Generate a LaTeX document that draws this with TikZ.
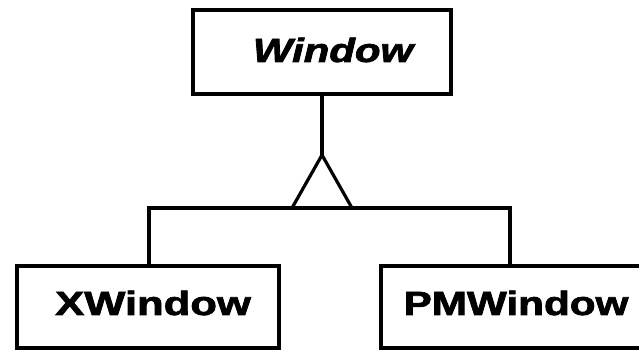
\documentclass[tikz,border=0pt]{standalone}
\usepackage{fontspec}
\setmainfont{Liberation Sans}[
  BoldFeatures={FakeBold=2},
  BoldItalicFeatures={FakeBold=2}]
\begin{document}
\begin{tikzpicture}[x=1pt,y=-1pt,
  classbox/.style={draw=black,line width=3.2pt,fill=white,inner sep=0pt},
  classname/.style={inner sep=0pt,font=\fontsize{33.5}{36}\selectfont\bfseries},
  link/.style={draw=black,line width=3.2pt}]
  \useasboundingbox (0,0) rectangle (639,354);
  \clip (0,0) rectangle (639,354);

  % class boxes
  \node[classbox,minimum width=258pt,minimum height=84pt] (window) at (322,52) {};
  \node[classbox,minimum width=262pt,minimum height=82pt] (xwin) at (148,307) {};
  \node[classbox,minimum width=262pt,minimum height=82pt] (pmwin) at (512,307) {};

  % class names
  \node[classname] (windowname) at (333,50) {\scalebox{1.25}[1]{\itshape Window}};
  \node[classname] (xwinname) at (153,303) {\scalebox{1.3}[1]{XWindow}};
  \node[classname] (pmwinname) at (516,303) {\scalebox{1.26}[1]{PMWindow}};

  % inheritance triangle and bus
  \coordinate (apex) at (322,155);
  \coordinate (tl) at (292,208);
  \coordinate (tr) at (352,208);
  \coordinate (busl) at (149,208);
  \coordinate (busr) at (510,208);
  \draw[link] (window.south) -- (apex);
  \draw[link,line join=miter] (apex) -- (tl) -- (tr) -- cycle;
  \draw[link] (busl |- xwin.north) -- (busl) -- (busr) -- (busr |- pmwin.north);
\end{tikzpicture}
\end{document}
